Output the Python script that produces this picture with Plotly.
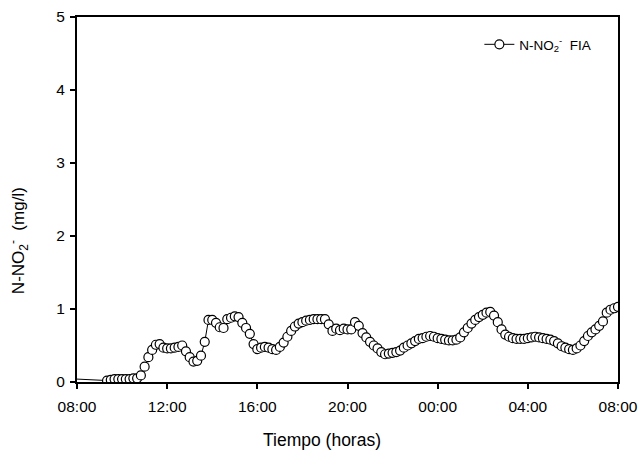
import pandas as pd
import plotly.graph_objects as go

# N-NO2- measured by FIA, one reading every 10 minutes starting 09:20
start_time = "2000-01-01 09:20"
sample_step = "10min"
nitrite_fia = [
    0.02, 0.03, 0.04, 0.04, 0.04, 0.04, 0.04, 0.05, 0.05, 0.09,
    0.21, 0.34, 0.44, 0.51, 0.52, 0.47, 0.46, 0.46, 0.47, 0.48,
    0.50, 0.42, 0.34, 0.28, 0.29, 0.36, 0.55, 0.85, 0.85, 0.81,
    0.75, 0.74, 0.86, 0.88, 0.90, 0.89, 0.81, 0.74, 0.66, 0.52,
    0.45, 0.47, 0.48, 0.47, 0.45, 0.44, 0.48, 0.54, 0.62, 0.70,
    0.76, 0.80, 0.82, 0.84, 0.85, 0.86, 0.86, 0.86, 0.86, 0.79,
    0.70, 0.73, 0.71, 0.73, 0.72, 0.72, 0.82, 0.77, 0.67, 0.61,
    0.55, 0.50, 0.46, 0.41, 0.38, 0.39, 0.40, 0.41, 0.43, 0.47,
    0.50, 0.53, 0.56, 0.59, 0.60, 0.62, 0.63, 0.62, 0.60, 0.59,
    0.58, 0.57, 0.57, 0.58, 0.61, 0.68, 0.74, 0.80, 0.85, 0.89,
    0.92, 0.95, 0.96, 0.91, 0.82, 0.72, 0.65, 0.62, 0.60, 0.59,
    0.59, 0.59, 0.60, 0.61, 0.62, 0.61, 0.60, 0.59, 0.58, 0.56,
    0.53, 0.49, 0.47, 0.45, 0.44, 0.46, 0.50, 0.56, 0.63, 0.68,
    0.72, 0.77, 0.83, 0.95, 0.99, 1.01, 1.03,
]
# baseline level traced from the start of the run until sampling begins
baseline_time = "2000-01-01 08:00"
baseline_value = 0.04

x_start = "2000-01-01 08:00"
x_end = "2000-01-02 08:00"
y_ticks = [0, 1, 2, 3, 4, 5]

x_title = "Tiempo (horas)"
y_title = "N-NO<sub>2</sub><sup>-</sup>  (mg/l)"
series_name = "N-NO<sub>2</sub><sup>-</sup>  FIA"

times = pd.date_range(start_time, periods=len(nitrite_fia), freq=sample_step)

font_family = "Liberation Sans, Arial, sans-serif"

fig = go.Figure()

fig.add_trace(go.Scatter(
    x=[pd.Timestamp(baseline_time), times[0]],
    y=[baseline_value, nitrite_fia[0]],
    mode="lines",
    line=dict(color="black", width=1),
    showlegend=False,
    hoverinfo="skip",
))

fig.add_trace(go.Scatter(
    x=times,
    y=nitrite_fia,
    mode="lines+markers",
    name=series_name,
    line=dict(color="black", width=1),
    marker=dict(symbol="circle", size=9, color="white",
                line=dict(color="black", width=1.2)),
))

fig.update_layout(
    width=644,
    height=455,
    margin=dict(l=77, r=26, t=17, b=73),
    paper_bgcolor="white",
    plot_bgcolor="white",
    font=dict(family=font_family, size=12, color="black"),
    legend=dict(
        x=0.96, y=0.967, xanchor="right", yanchor="top",
        bgcolor="rgba(0,0,0,0)", font=dict(size=13.5),
    ),
    annotations=[
        dict(text=x_title, xref="paper", yref="paper",
             x=0.453, y=-0.159, xanchor="center", yanchor="middle",
             showarrow=False, font=dict(size=17.5)),
        dict(text=y_title, xref="paper", yref="paper",
             x=-0.109, y=0.386, xanchor="center", yanchor="middle",
             textangle=-90, showarrow=False, font=dict(size=17)),
    ],
)

fig.update_xaxes(
    range=[x_start, x_end],
    type="date",
    dtick=4 * 3600 * 1000,
    tick0=x_start,
    tickformat="%H:%M",
    showline=True, linecolor="black", linewidth=2, mirror=True,
    ticks="outside", ticklen=5, tickwidth=1.5, tickcolor="black",
    showgrid=False, zeroline=False,
    tickfont=dict(size=15.5),
    ticklabelstandoff=4,
    automargin=False,
)

fig.update_yaxes(
    range=[0, 5],
    tickvals=y_ticks,
    showline=True, linecolor="black", linewidth=2, mirror=True,
    ticks="outside", ticklen=5, tickwidth=1.5, tickcolor="black",
    showgrid=False, zeroline=False,
    tickfont=dict(size=15.5),
    ticklabelstandoff=2,
    automargin=False,
)

fig.write_html("out.html")
